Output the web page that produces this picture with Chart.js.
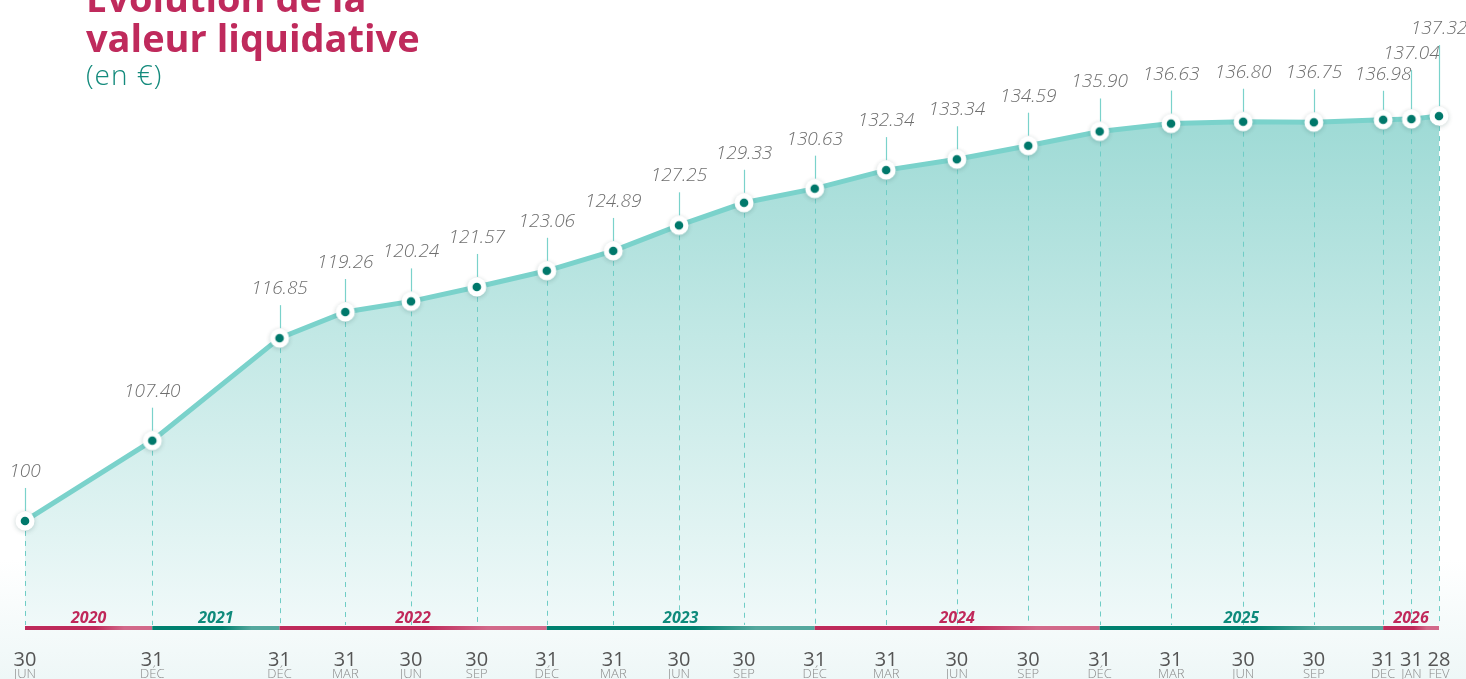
<!DOCTYPE html>
<html lang="fr">
<head>
<meta charset="utf-8">
<title>Évolution de la valeur liquidative</title>
<script src="https://cdn.jsdelivr.net/npm/chart.js@4.4.1/dist/chart.umd.min.js"></script>
<style>
  body { margin: 0; background: #fff; }
  #wrap { position: relative; width: 1466px; height: 679px; overflow: hidden;
          background: linear-gradient(#fff 0, #fff 560px, #eef7f7 679px); }
  #chart { position: absolute; left: 0; top: 0; }
  .title { position: absolute; left: 86px; font-family: "Open Sans", sans-serif; white-space: nowrap; }
  .t1, .t2 { font-size: 38px; font-weight: 700; color: #bf2a5c; line-height: 40px; }
  .t1 { top: -23px; }
  .t2 { top: 17px; }
  .t3 { top: 59px; font-size: 28px; font-weight: 300; color: #138a7c; line-height: 30px; letter-spacing: 1px; }
</style>
</head>
<body>
<div id="wrap">
  <canvas id="chart" width="1466" height="679"></canvas>
  <div class="title t1">Évolution de la</div>
  <div class="title t2">valeur liquidative</div>
  <div class="title t3">(en €)</div>
</div>
<script>
// valeurs liquidatives relevées en fin de période
const navValues = [100, 107.40, 116.85, 119.26, 120.24, 121.57, 123.06, 124.89, 127.25, 129.33,
  130.63, 132.34, 133.34, 134.59, 135.90, 136.63, 136.80, 136.75, 136.98, 137.04, 137.32];
// jour / mois affichés sous l'axe
const tickDays = ['30', '31', '31', '31', '30', '30', '31', '31', '30', '30',
  '31', '31', '30', '30', '31', '31', '30', '30', '31', '31', '28'];
const tickMonths = ['JUN', 'DÉC', 'DÉC', 'MAR', 'JUN', 'SEP', 'DÉC', 'MAR', 'JUN', 'SEP',
  'DÉC', 'MAR', 'JUN', 'SEP', 'DÉC', 'MAR', 'JUN', 'SEP', 'DEC', 'JAN', 'FEV'];
// place de chaque date sur l'axe (l'axe n'est pas proportionnel au temps)
const xSlots = [0, 1.8, 3.6, 4.53, 5.46, 6.39, 7.38, 8.32, 9.25, 10.17,
  11.17, 12.18, 13.18, 14.19, 15.2, 16.21, 17.23, 18.23, 19.21, 19.61, 20];
// bandes des années : premier et dernier point couverts
const years = ['2020', '2021', '2022', '2023', '2024', '2025', '2026'];
const yearFrom = [0, 1, 2, 6, 10, 14, 18];
const yearTo = [1, 2, 6, 10, 14, 18, 20];

const CRIMSON = ['#be2a5a', '#d2698a'];
const TEAL = ['#00806f', '#55a89e'];
const LINE = '#7ad2cb';
const labelLift = i => (i === 20 ? 82 : i === 19 ? 60 : i === 18 ? 40 : 44);

// pastille : anneau blanc, cœur vert foncé, légère ombre
const dot = document.createElement('canvas');
dot.width = dot.height = 32;
(() => {
  const c = dot.getContext('2d');
  c.shadowColor = 'rgba(0,60,55,0.22)';
  c.shadowBlur = 5;
  c.shadowOffsetY = 1;
  c.fillStyle = '#fff';
  c.beginPath(); c.arc(16, 16, 9.5, 0, Math.PI * 2); c.fill();
  c.shadowColor = 'transparent';
  c.fillStyle = '#00786b';
  c.beginPath(); c.arc(16, 16, 4.3, 0, Math.PI * 2); c.fill();
})();

const decor = {
  id: 'decor',
  beforeDatasetsDraw(chart) {
    // pointillés verticaux sous chaque point
    const { ctx, chartArea } = chart;
    const meta = chart.getDatasetMeta(0);
    ctx.save();
    ctx.strokeStyle = '#6fcdc6';
    ctx.lineWidth = 1;
    ctx.setLineDash([5, 5]);
    meta.data.forEach(pt => {
      ctx.beginPath();
      ctx.moveTo(Math.round(pt.x) + 0.5, pt.y);
      ctx.lineTo(Math.round(pt.x) + 0.5, chartArea.bottom);
      ctx.stroke();
    });
    ctx.restore();
  },
  afterDatasetsDraw(chart) {
    const { ctx, chartArea, scales } = chart;
    const meta = chart.getDatasetMeta(0);
    const x = scales.x;
    ctx.save();

    // étiquettes de valeur + traits
    meta.data.forEach((pt, i) => {
      const base = pt.y - labelLift(i);
      ctx.strokeStyle = LINE;
      ctx.lineWidth = 1.2;
      ctx.beginPath();
      ctx.moveTo(Math.round(pt.x) + 0.5, base + 11);
      ctx.lineTo(Math.round(pt.x) + 0.5, pt.y - 10);
      ctx.stroke();
      ctx.fillStyle = '#6f6f6f';
      ctx.font = 'italic 300 19px "Open Sans"';
      ctx.textAlign = 'center';
      ctx.textBaseline = 'alphabetic';
      const v = navValues[i];
      ctx.fillText(Number.isInteger(v) ? String(v) : v.toFixed(2), pt.x, base);
    });

    // bandes des années
    const barY = chartArea.bottom + 1;
    years.forEach((yr, k) => {
      const x0 = x.getPixelForValue(xSlots[yearFrom[k]]);
      const x1 = x.getPixelForValue(xSlots[yearTo[k]]);
      const col = k % 2 === 0 ? CRIMSON : TEAL;
      const g = ctx.createLinearGradient(x0, 0, x1, 0);
      g.addColorStop(0, col[0]);
      g.addColorStop(0.55, col[0]);
      g.addColorStop(0.78, col[1]);
      g.addColorStop(1, col[1]);
      ctx.fillStyle = g;
      ctx.fillRect(x0, barY, x1 - x0, 4);
      ctx.fillStyle = k % 2 === 0 ? '#c0285a' : '#0e8a7b';
      ctx.font = 'italic 700 16px "Open Sans"';
      ctx.textAlign = 'center';
      ctx.fillText(yr, (x0 + x1) / 2, barY - 3);
    });

    // jours / mois sous l'axe
    xSlots.forEach((s, i) => {
      const px = x.getPixelForValue(s);
      ctx.textAlign = 'center';
      ctx.fillStyle = '#555';
      ctx.font = '400 20px "Open Sans"';
      ctx.fillText(tickDays[i], px, 666);
      ctx.fillStyle = '#8a8a8a';
      ctx.font = '300 13px "Open Sans"';
      ctx.fillText(tickMonths[i], px, 678);
    });
    ctx.restore();
  }
};

new Chart(document.getElementById('chart'), {
  type: 'line',
  plugins: [decor],
  data: {
    datasets: [{
      data: navValues.map((v, i) => ({ x: xSlots[i], y: v })),
      borderColor: LINE,
      borderWidth: 5,
      tension: 0,
      fill: 'start',
      backgroundColor: ctx => {
        const area = ctx.chart.chartArea;
        if (!area) return 'rgba(122,210,203,0.4)';
        const g = ctx.chart.ctx.createLinearGradient(0, 100, 0, area.bottom);
        g.addColorStop(0, '#9bd9d4');
        g.addColorStop(0.45, '#c2e8e5');
        g.addColorStop(1, '#f0f9f9');
        return g;
      },
      pointStyle: dot,
      pointRadius: 10,
      clip: false
    }]
  },
  options: {
    responsive: false,
    animation: false,
    layout: { autoPadding: false, padding: { left: 25, right: 27, top: 0, bottom: 54 } },
    plugins: {
      legend: { display: false },
      tooltip: { enabled: false },
      filler: { drawTime: 'beforeDatasetsDraw' }
    },
    scales: {
      x: { type: 'linear', display: false, min: 0, max: 20 },
      y: { display: false, min: 90.41, max: 148.02 }
    }
  }
});
</script>
</body>
</html>
